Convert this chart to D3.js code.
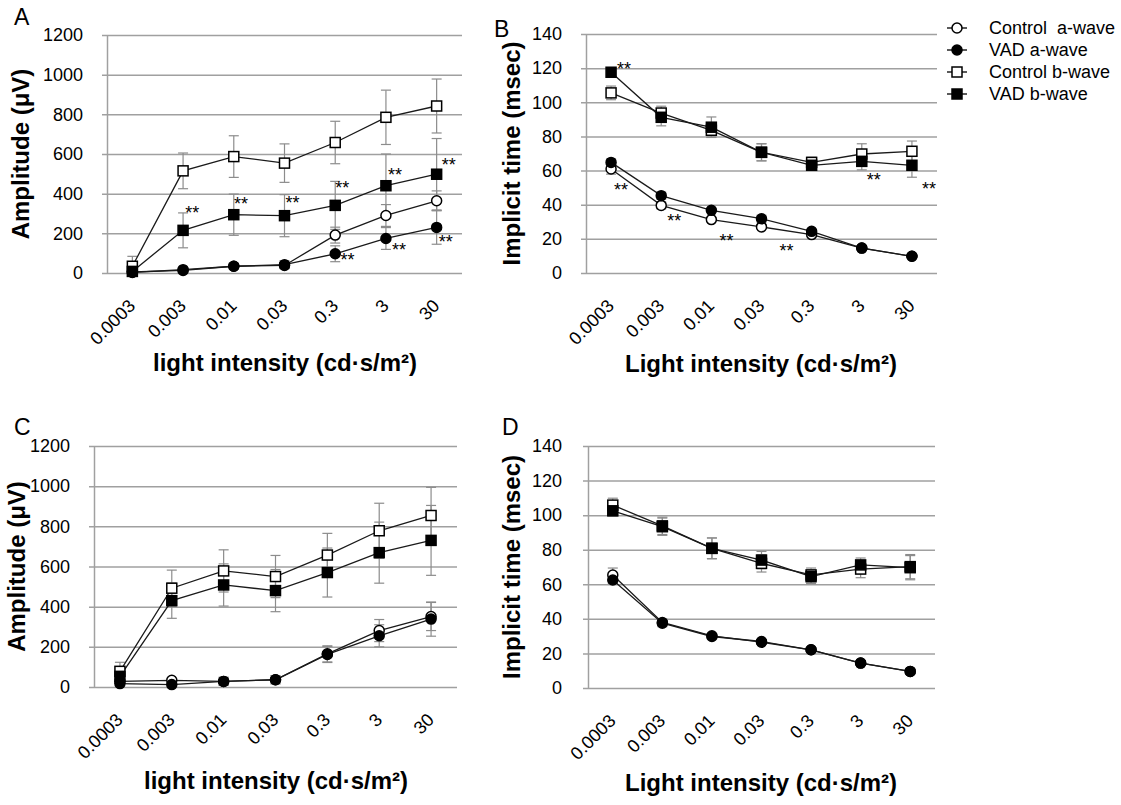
<!DOCTYPE html>
<html>
<head>
<meta charset="UTF-8"/>
<title>ERG amplitude and implicit time</title>
<script src="https://d3js.org/d3.v7.min.js"></script>
<style>
body { margin: 0; background: #fff; font-family: 'Liberation Sans', Arial, sans-serif; }
svg { display: block; }
text { fill: #000; }
.grid line { stroke: #a0a0a0; stroke-width: 1.5; }
.grid path { stroke-width: 0; }
.yaxis path { stroke: #a0a0a0; stroke-width: 1.5; }
.ylabels path, .xlabels path { stroke-width: 0; }
.ylabels text, .xlabels text { font-size: 18px; font-family: 'Liberation Sans', Arial, sans-serif; }
.err { stroke: #8c8c8c; stroke-width: 1.2; }
.series { fill: none; stroke: #1a1a1a; stroke-width: 1.3; }
.title { font-size: 24px; font-weight: bold; }
.letter { font-size: 23px; }
.star { font-size: 18px; }
.legend text { font-size: 18px; }
</style>
</head>
<body>
<svg width="1121" height="805"></svg>
<script>
// categories and ticks
const categories = ['0.0003', '0.003', '0.01', '0.03', '0.3', '3', '30'];
const ampTicks = [0, 200, 400, 600, 800, 1000, 1200];
const timeTicks = [0, 20, 40, 60, 80, 100, 120, 140];
const seriesNames = ['Control  a-wave', 'VAD a-wave', 'Control b-wave', 'VAD b-wave'];

// panel A - amplitude
const aCtrlA = [5, 13, 34, 38, 191, 290, 364];
const aVadA = [3, 17, 34, 42, 97, 174, 230];
const aCtrlB = [34, 515, 587, 554, 658, 785, 842];
const aVadB = [8, 215, 294, 289, 341, 440, 498];
const aCtrlAErr = [5, 8, 15, 15, 40, 55, 50];
const aVadAErr = [3, 5, 15, 20, 40, 55, 85];
const aCtrlBErr = [50, 90, 105, 97, 107, 137, 136];
const aVadBErr = [10, 88, 104, 106, 121, 160, 180];
// stars: [category position (index units), value]
const aStars = [[1.18, 322], [2.14, 369], [3.16, 374], [4.14, 448], [5.18, 515], [6.24, 567],
                [4.24, 84], [5.26, 134], [6.18, 176]];

// panel B - implicit time
const bCtrlA = [60.9, 39.6, 31.3, 27, 22.5, 14.6, 9.8];
const bVadA = [64.8, 45.3, 36.7, 31.8, 24.4, 14.6, 9.8];
const bCtrlB = [105.5, 93.7, 83.6, 70.7, 64.8, 69.7, 71.3];
const bVadB = [117.6, 91.2, 85.4, 70.7, 63.1, 65.4, 63.1];
const bCtrlAErr = [3, 2, 1, 1, 1, 1, 1];
const bVadAErr = [2, 2, 1, 2, 1, 1, 1];
const bCtrlBErr = [4, 4, 4, 5, 3, 6, 6];
const bVadBErr = [2, 5, 6, 5, 3, 5, 7];
const bStars = [[0.26, 122], [0.2, 50.8], [1.26, 33], [2.3, 21], [3.5, 15], [5.24, 56.6], [6.34, 51.8]];

// panel C - amplitude
const cCtrlA = [28, 33, 28, 36, 165, 281, 351];
const cVadA = [17, 12, 28, 36, 162, 255, 338];
const cCtrlB = [78, 492, 578, 550, 657, 778, 854];
const cVadB = [53, 430, 508, 480, 570, 669, 730];
const cCtrlAErr = [10, 8, 20, 20, 40, 55, 70];
const cVadAErr = [8, 5, 20, 20, 40, 55, 85];
const cCtrlBErr = [45, 90, 105, 105, 108, 137, 140];
const cVadBErr = [30, 88, 105, 105, 122, 152, 174];

// panel D - implicit time
const dCtrlA = [65.4, 37.9, 30.2, 26.5, 22.1, 14.4, 9.6];
const dVadA = [62.5, 37.5, 29.8, 26.9, 22.1, 14.4, 9.6];
const dCtrlB = [105.8, 93.8, 80.8, 72.1, 65.4, 68.8, 70.2];
const dVadB = [102.5, 93.3, 80.8, 74, 64.4, 71.2, 69.6];
const dCtrlAErr = [4, 2, 1, 1, 1, 1, 1];
const dVadAErr = [2, 2, 1, 1, 1, 1, 1];
const dCtrlBErr = [4, 5, 6, 5, 4, 5, 7];
const dVadBErr = [3, 5, 6, 5, 4, 4, 7];

const panels = [
  { letter: 'A', lx: 14, ly: 25, left: 107, right: 462, top: 35, bottom: 273, labelX: 83,
    ticks: ampTicks, yTitle: 'Amplitude (μV)', yTitleX: 29, xTitle: 'light intensity (cd·s/m²)',
    xTitleX: 285, xTitleY: 371,
    series: [[aCtrlA, aCtrlAErr], [aVadA, aVadAErr], [aCtrlB, aCtrlBErr], [aVadB, aVadBErr]], stars: aStars },
  { letter: 'B', lx: 494, ly: 37, left: 586, right: 937, top: 34, bottom: 273, labelX: 562,
    ticks: timeTicks, yTitle: 'Implicit time (msec)', yTitleX: 520, xTitle: 'Light intensity (cd·s/m²)',
    xTitleX: 761, xTitleY: 372,
    series: [[bCtrlA, bCtrlAErr], [bVadA, bVadAErr], [bCtrlB, bCtrlBErr], [bVadB, bVadBErr]], stars: bStars },
  { letter: 'C', lx: 14, ly: 435, left: 94, right: 457, top: 446, bottom: 687, labelX: 70,
    ticks: ampTicks, yTitle: 'Amplitude (μV)', yTitleX: 25, xTitle: 'light intensity (cd·s/m²)',
    xTitleX: 276, xTitleY: 789,
    series: [[cCtrlA, cCtrlAErr], [cVadA, cVadAErr], [cCtrlB, cCtrlBErr], [cVadB, cVadBErr]], stars: [] },
  { letter: 'D', lx: 502, ly: 435, left: 588, right: 935, top: 446, bottom: 688, labelX: 562,
    ticks: timeTicks, yTitle: 'Implicit time (msec)', yTitleX: 520, xTitle: 'Light intensity (cd·s/m²)',
    xTitleX: 761, xTitleY: 791,
    series: [[dCtrlA, dCtrlAErr], [dVadA, dVadAErr], [dCtrlB, dCtrlBErr], [dVadB, dVadBErr]], stars: [] }
];

// marker styles per series: circle/square, open/filled
const markers = [
  { shape: 'circle', fill: '#fff' },
  { shape: 'circle', fill: '#000' },
  { shape: 'square', fill: '#fff' },
  { shape: 'square', fill: '#000' }
];

const svg = d3.select('svg');

function drawMarker(g, m, x, y) {
  if (m.shape === 'circle') {
    g.append('circle').attr('cx', x).attr('cy', y).attr('r', 5)
      .attr('fill', m.fill).attr('stroke', '#000').attr('stroke-width', 1.5);
  } else {
    g.append('rect').attr('x', x - 5).attr('y', y - 5).attr('width', 10).attr('height', 10)
      .attr('fill', m.fill).attr('stroke', '#000').attr('stroke-width', 1.5);
  }
}

panels.forEach(p => {
  const g = svg.append('g');
  const xScale = d3.scaleBand().domain(categories).range([p.left, p.right]).padding(0);
  const bw = xScale.bandwidth();
  const cx = i => xScale(categories[i]) + bw / 2;
  const yScale = d3.scaleLinear().domain([0, d3.max(p.ticks)]).range([p.bottom, p.top]);

  // gridlines
  g.append('g').attr('class', 'grid')
    .attr('transform', `translate(${p.left - 5},0)`)
    .call(d3.axisRight(yScale).tickValues(p.ticks).tickSize(p.right - p.left + 5).tickFormat(''));

  // vertical axis line
  g.append('g').attr('class', 'yaxis')
    .attr('transform', `translate(${p.left},0)`)
    .call(d3.axisLeft(yScale).tickValues([]).tickSizeOuter(0));

  // y tick labels
  g.append('g').attr('class', 'ylabels')
    .attr('transform', `translate(${p.labelX},0)`)
    .call(d3.axisLeft(yScale).tickValues(p.ticks).tickFormat(d3.format('d')).tickSize(0).tickPadding(0))
    .selectAll('line').remove();

  // x tick labels, rotated
  g.append('g').attr('class', 'xlabels')
    .attr('transform', `translate(0,${p.bottom})`)
    .call(d3.axisBottom(xScale).tickSize(0))
    .selectAll('text')
    .attr('x', 0).attr('y', 0).attr('dy', 0)
    .attr('text-anchor', 'end')
    .attr('transform', 'translate(4,34) rotate(-45)');

  // error bars
  p.series.forEach(([vals, errs]) => {
    vals.forEach((v, i) => {
      const x = cx(i);
      const y1 = yScale(v - errs[i]), y2 = yScale(v + errs[i]);
      g.append('line').attr('class', 'err').attr('x1', x).attr('x2', x).attr('y1', y1).attr('y2', y2);
      g.append('line').attr('class', 'err').attr('x1', x - 5).attr('x2', x + 5).attr('y1', y1).attr('y2', y1);
      g.append('line').attr('class', 'err').attr('x1', x - 5).attr('x2', x + 5).attr('y1', y2).attr('y2', y2);
    });
  });

  // lines and markers
  const line = d3.line().x((d, i) => cx(i)).y(d => yScale(d));
  p.series.forEach(([vals]) => {
    g.append('path').attr('class', 'series').attr('d', line(vals));
  });
  p.series.forEach(([vals], si) => {
    vals.forEach((v, i) => drawMarker(g, markers[si], cx(i), yScale(v)));
  });

  // significance stars
  p.stars.forEach(([pos, v]) => {
    g.append('text').attr('class', 'star')
      .attr('x', xScale(categories[0]) + bw / 2 + pos * bw)
      .attr('y', yScale(v) + 10)
      .attr('text-anchor', 'middle')
      .text('**');
  });

  // titles
  g.append('text').attr('class', 'letter').attr('x', p.lx).attr('y', p.ly).text(p.letter);
  g.append('text').attr('class', 'title')
    .attr('transform', `translate(${p.yTitleX},${(p.top + p.bottom) / 2}) rotate(-90)`)
    .attr('text-anchor', 'middle')
    .text(p.yTitle);
  g.append('text').attr('class', 'title')
    .attr('x', p.xTitleX).attr('y', p.xTitleY)
    .attr('text-anchor', 'middle')
    .text(p.xTitle);
});

// legend
const legend = svg.append('g').attr('class', 'legend');
seriesNames.forEach((name, i) => {
  const y = 28 + i * 22;
  legend.append('line').attr('x1', 947).attr('x2', 967).attr('y1', y).attr('y2', y)
    .attr('stroke', '#000').attr('stroke-width', 1.3);
  drawMarker(legend, markers[i], 957, y);
  legend.append('text').attr('x', 989).attr('y', y + 6).attr('xml:space', 'preserve')
    .style('white-space', 'pre').text(name);
});
</script>
</body>
</html>
